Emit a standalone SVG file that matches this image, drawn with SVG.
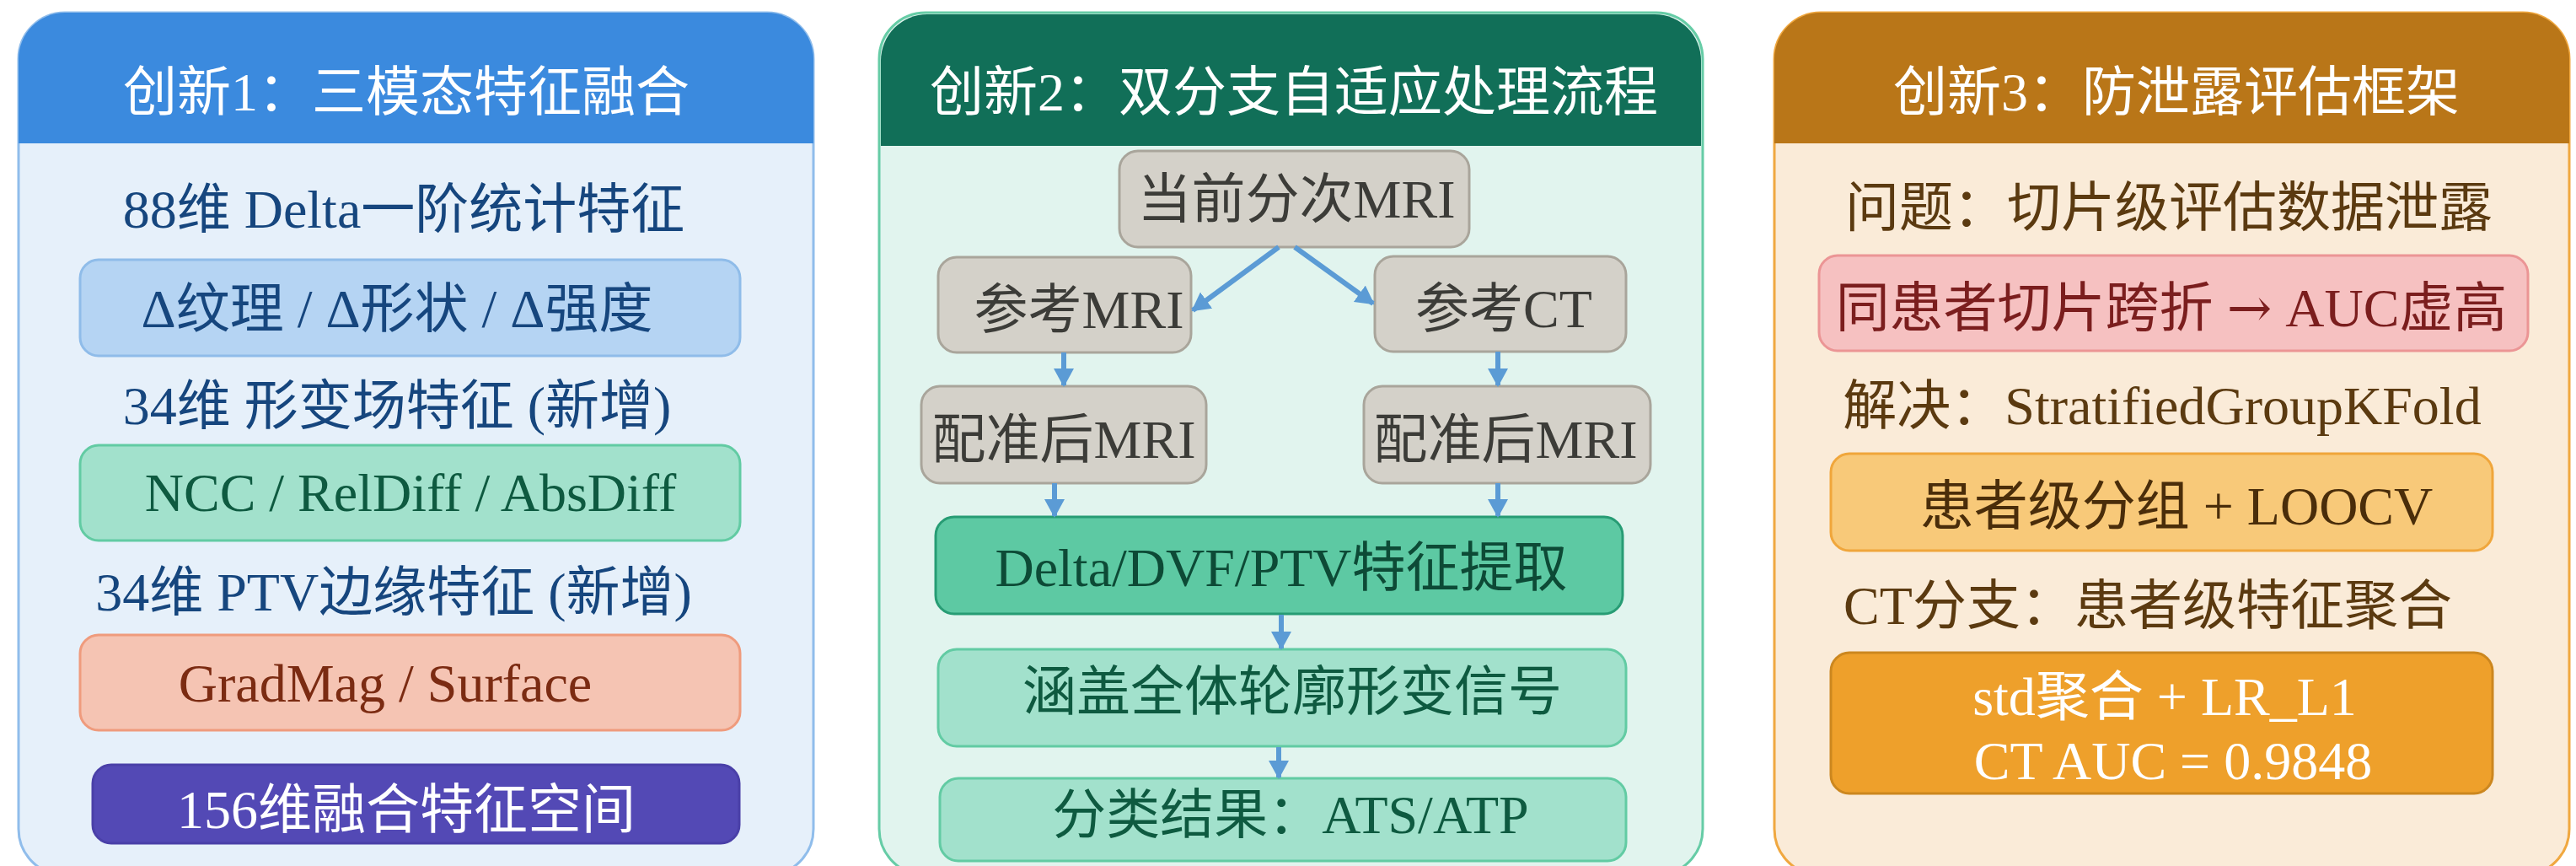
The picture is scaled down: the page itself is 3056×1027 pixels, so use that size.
<svg xmlns="http://www.w3.org/2000/svg" width="3056" height="1027" viewBox="0 0 3056 1027">
<defs>
<style>
text{font-family:"Liberation Serif","Noto Sans CJK SC",serif;font-size:64px;text-anchor:middle}
.w{fill:#ffffff}
.b{fill:#16467e}
.g{fill:#0e5a40}
.r{fill:#7b2b12}
.k{fill:#3c3c38}
.dg{fill:#0d4a36}
.br{fill:#5b3a10}
.pk{fill:#7b1e1e}
.yb{fill:#4a2d0a}
.n{rx:22px;stroke-width:3}
.blue{fill:#b5d4f3;stroke:#8fbce9}
.mint{fill:#a2e1cc;stroke:#62cba3}
.salmon{fill:#f5c4b3;stroke:#ef9b7d}
.grey{fill:#d4d1c9;stroke:#a9a59b}
.teal{fill:#5dc9a3;stroke:#279c74}
.pink{fill:#f6c1c1;stroke:#eb9595}
.yel{fill:#f8c979;stroke:#f0a63b}
.orng{fill:#eea02b;stroke:#cc871f}
.edge{stroke:#5b9bd5;stroke-width:6;fill:none;marker-end:url(#ah)}
</style>
<marker id="ah" viewBox="0 0 22 24" refX="20" refY="12" markerWidth="22" markerHeight="24" markerUnits="userSpaceOnUse" orient="auto">
<path d="M0,0 L22,12 L0,24 z" fill="#5b9bd5"/>
</marker>
</defs>
<rect width="3056" height="1027" fill="#ffffff"/>

<g id="panel1">
<rect x="22" y="15" width="943" height="1023" rx="55" fill="#e6f0fa" stroke="#90bdeb" stroke-width="3"/>
<path d="M22,170 V70 A55,55 0 0 1 77,15 H910 A55,55 0 0 1 965,70 V170 Z" fill="#3b8ade"/>
<text class="w" x="482" y="131">创新1：三模态特征融合</text>
<text class="b" x="479" y="270">88维 Delta一阶统计特征</text>
<text class="b" x="471" y="503">34维 形变场特征 (新增)</text>
<text class="b" x="467" y="724">34维 PTV边缘特征 (新增)</text>
</g>
<g id="p1-delta">
<rect class="n blue" x="95" y="308" width="783" height="114"/>
<text class="b" x="471" y="388">Δ纹理 / Δ形状 / Δ强度</text>
</g>
<g id="p1-dvf">
<rect class="n mint" x="95" y="528" width="783" height="113"/>
<text class="g" x="487" y="606">NCC / RelDiff / AbsDiff</text>
</g>
<g id="p1-ptv">
<rect class="n salmon" x="95" y="753" width="783" height="113"/>
<text class="r" x="457" y="832">GradMag / Surface</text>
</g>
<g id="p1-fused">
<rect class="n" x="110" y="907" width="767" height="93" fill="#5349b5" stroke="#4a40a8"/>
<text class="w" x="482" y="982">156维融合特征空间</text>
</g>

<g id="panel2">
<rect x="1043" y="15" width="977" height="1023" rx="55" fill="#e1f4ee" stroke="#66cca6" stroke-width="3"/>
<path d="M1045,173 V72 A55,55 0 0 1 1100,17 H1963 A55,55 0 0 1 2018,72 V173 Z" fill="#116f58"/>
<text class="w" x="1535" y="131">创新2：双分支自适应处理流程</text>
</g>
<g id="p2-current">
<rect class="n grey" x="1328" y="179" width="415" height="114"/>
<text class="k" x="1538" y="258">当前分次MRI</text>
</g>
<g id="p2-refmri">
<rect class="n grey" x="1113" y="305" width="300" height="113"/>
<text class="k" x="1280" y="389">参考MRI</text>
</g>
<g id="p2-refct">
<rect class="n grey" x="1631" y="304" width="298" height="113"/>
<text class="k" x="1784" y="388">参考CT</text>
</g>
<g id="p2-regL">
<rect class="n grey" x="1093" y="458" width="338" height="115"/>
<text class="k" x="1262" y="543">配准后MRI</text>
</g>
<g id="p2-regR">
<rect class="n grey" x="1618" y="458" width="340" height="115"/>
<text class="k" x="1786" y="543">配准后MRI</text>
</g>
<g id="p2-extract">
<rect class="n teal" x="1110" y="613" width="815" height="115"/>
<text class="dg" x="1520" y="695">Delta/DVF/PTV特征提取</text>
</g>
<g id="p2-cover">
<rect class="n mint" x="1113" y="770" width="816" height="115"/>
<text class="g" x="1533" y="842">涵盖全体轮廓形变信号</text>
</g>
<g id="p2-result">
<rect class="n mint" x="1115" y="923" width="814" height="98"/>
<text class="g" x="1531" y="988">分类结果：ATS/ATP</text>
</g>

<g id="connectors">
<line class="edge" x1="1517" y1="293" x2="1415" y2="368"/>
<line class="edge" x1="1536" y1="293" x2="1629" y2="360"/>
<line class="edge" x1="1262" y1="418" x2="1262" y2="457"/>
<line class="edge" x1="1777" y1="417" x2="1777" y2="457"/>
<line class="edge" x1="1251" y1="573" x2="1251" y2="612"/>
<line class="edge" x1="1777" y1="573" x2="1777" y2="612"/>
<line class="edge" x1="1520" y1="729" x2="1520" y2="769"/>
<line class="edge" x1="1517" y1="886" x2="1517" y2="922"/>
</g>

<g id="panel3">
<rect x="2105" y="15" width="943" height="1023" rx="55" fill="#faebd8" stroke="#f0a840" stroke-width="3"/>
<path d="M2105,170 V70 A55,55 0 0 1 2160,15 H2993 A55,55 0 0 1 3048,70 V170 Z" fill="#b97618"/>
<text class="w" x="2582" y="131">创新3：防泄露评估框架</text>
<text class="br" x="2573" y="268">问题：切片级评估数据泄露</text>
<text class="br" x="2565" y="503">解决：StratifiedGroupKFold</text>
<text class="br" x="2548" y="740">CT分支：患者级特征聚合</text>
</g>
<g id="p3-problem">
<rect class="n pink" x="2158" y="303" width="841" height="113"/>
<text class="pk" x="2576" y="387">同患者切片跨折 <tspan font-family="DejaVu Serif, serif">→</tspan> AUC虚高</text>
</g>
<g id="p3-solution">
<rect class="n yel" x="2172" y="538" width="785" height="115"/>
<text class="yb" x="2582" y="622">患者级分组 + LOOCV</text>
</g>
<g id="p3-ct">
<rect class="n orng" x="2172" y="774" width="785" height="167"/>
<text class="w" x="2568" y="848">std聚合 + LR_L1</text>
<text class="w" x="2578" y="924">CT AUC = 0.9848</text>
</g>
</svg>
